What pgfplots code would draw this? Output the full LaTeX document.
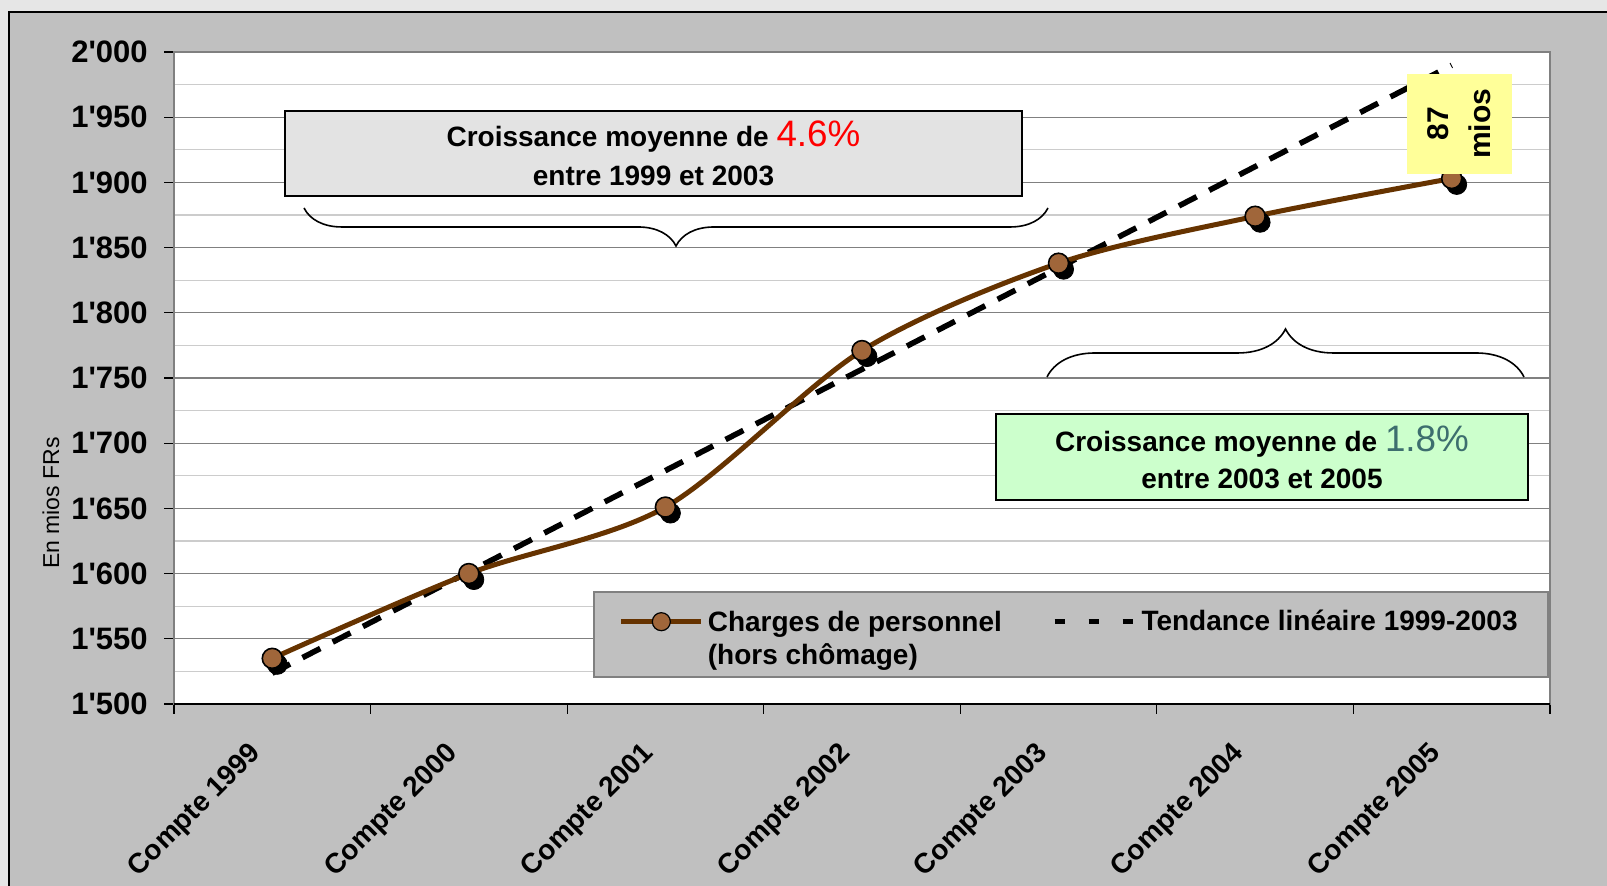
\documentclass[border=0pt]{standalone}
\usepackage{fontspec}
\setmainfont{Liberation Sans}
\usepackage{pgfplots}
\pgfplotsset{compat=1.18}
\usetikzlibrary{decorations.pathreplacing}
\definecolor{outerbg}{HTML}{E6E6E6}
\definecolor{chartbg}{HTML}{C0C0C0}
\definecolor{brownline}{HTML}{663300}
\definecolor{markfill}{HTML}{A0663A}
\definecolor{boxgray}{HTML}{E3E3E3}
\definecolor{boxgreen}{HTML}{CCFFCC}
\definecolor{boxyellow}{HTML}{FFFF99}
\definecolor{tealtxt}{HTML}{3D6E6E}
\definecolor{majgrid}{HTML}{808080}
\definecolor{mingrid}{HTML}{CCCCCC}
\newcommand\q{\textquotesingle}
\begin{document}
\begin{tikzpicture}
\useasboundingbox (0pt,0pt) rectangle (803.5pt,443pt);
\fill[outerbg] (0pt,0pt) rectangle (803.5pt,443pt);
\filldraw[fill=chartbg, draw=black, line width=0.8pt] (4.5pt,-10pt) rectangle (820pt,437pt);
\begin{axis}[
  at={(87pt,91pt)}, anchor=south west,
  scale only axis, width=688pt, height=326pt,
  xmin=-0.5, xmax=6.5, ymin=1500, ymax=2000,
  axis background/.style={fill=white},
  axis line style={draw=majgrid, line width=0.8pt},
  ytick={1500,1550,...,2000},
  yticklabels={1\q500,1\q550,1\q600,1\q650,1\q700,1\q750,1\q800,1\q850,1\q900,1\q950,2\q000},
  minor y tick num=1,
  ymajorgrids, yminorgrids,
  major grid style={draw=majgrid, line width=0.6pt},
  minor grid style={draw=mingrid, line width=0.6pt},
  tick align=outside, tick pos=left,
  major tick length=5pt, minor tick length=0pt,
  tick style={draw=black, line width=0.6pt},
  yticklabel style={font=\fontsize{15.5}{18}\selectfont\bfseries, inner sep=0pt, xshift=-8pt},
  xtick={-0.5,0.5,...,6.5},
  x tick label as interval,
  xticklabels={Compte 1999,Compte 2000,Compte 2001,Compte 2002,Compte 2003,Compte 2004,Compte 2005},
  xticklabel style={font=\fontsize{14}{17}\selectfont\bfseries, xshift=-7.5pt, yshift=-17.5pt, rotate=45, anchor=east, inner sep=0pt},
  clip=false,
  legend image code/.code={\draw[mark repeat=2,mark phase=2,#1] plot coordinates {(0pt,0pt) (20pt,0pt) (40pt,0pt)};},
  legend style={at={(0.3230,0.153)}, anchor=north west, draw=none, fill=none, inner sep=0pt,
    font=\fontsize{14}{16.5}\selectfont\bfseries, legend columns=2,
    /tikz/every even column/.append style={column sep=23pt}},
]
\addlegendimage{brownline, line width=2.5pt, mark=*, mark size=4.5pt, mark options={fill=markfill, draw=black, line width=0.6pt}}
\addlegendentry{\begin{tabular}[t]{@{}l@{}}Charges de personnel\\(hors chômage)\end{tabular}}
\addlegendimage{black, line width=2.8pt, dash pattern=on 5pt off 12pt}
\addlegendentry{Tendance linéaire 1999-2003}

\filldraw[fill=chartbg, draw=majgrid, line width=0.8pt] (axis description cs:0.3052,0.0414) rectangle (axis description cs:0.9985,0.1718);
\addplot[black, line width=2.8pt, dash pattern=on 10pt off 7pt, forget plot] coordinates {(0,1523.6) (6,1989.8)};
\addplot[brownline, line width=2.5pt, smooth, tension=0.5, forget plot] coordinates {(0,1535) (1,1600) (2,1651) (3,1771) (4,1838) (5,1874) (6,1903)};
\addplot[only marks, mark=*, mark size=5pt, mark options={fill=black, draw=black, xshift=2.5pt, yshift=-3pt}, forget plot] coordinates {(0,1535) (1,1600) (2,1651) (3,1771) (4,1838) (5,1874) (6,1903)};
\addplot[only marks, mark=*, mark size=5pt, mark options={fill=markfill, draw=black, line width=0.8pt}, forget plot] coordinates {(0,1535) (1,1600) (2,1651) (3,1771) (4,1838) (5,1874) (6,1903)};
\end{axis}
\draw[black, line width=0.8pt] (87pt,91pt) -- (775pt,91pt);
% y label
\node[rotate=90, font=\fontsize{11.5}{13}\selectfont] at (25.5pt,191.5pt) {En mios FRs};
% box 1
\filldraw[fill=boxgray, draw=black, line width=0.8pt] (142.5pt,345pt) rectangle (511pt,387.5pt);
\node[anchor=base, font=\fontsize{14}{16}\selectfont\bfseries] at (326.75pt,369.7pt) {Croissance moyenne de {\color{red}\fontsize{18.4}{20}\mdseries\selectfont 4.6\%}};
\node[anchor=base, font=\fontsize{14}{16}\selectfont\bfseries] at (326.75pt,350.25pt) {entre 1999 et 2003};
% box 2
\filldraw[fill=boxgreen, draw=black, line width=0.8pt] (498pt,193pt) rectangle (764pt,236pt);
\node[anchor=base, font=\fontsize{14}{16}\selectfont\bfseries] at (631pt,217pt) {Croissance moyenne de {\color{tealtxt}\fontsize{18.4}{20}\mdseries\selectfont 1.8\%}};
\node[anchor=base, font=\fontsize{14}{16}\selectfont\bfseries] at (631pt,198.5pt) {entre 2003 et 2005};
% yellow label
\fill[boxyellow] (703.5pt,356pt) rectangle (756pt,406pt);
\node[rotate=90, align=center, font=\fontsize{15}{21}\selectfont\bfseries] at (729.75pt,381pt) {87\\mios};
% braces
\draw[decorate, decoration={brace, mirror, amplitude=19pt}, line width=0.8pt] (152pt,339pt) -- (524pt,339pt);
\draw[decorate, decoration={brace, amplitude=24pt}, line width=0.8pt] (523.5pt,254.5pt) -- (762pt,254.5pt);
\end{tikzpicture}
\end{document}
